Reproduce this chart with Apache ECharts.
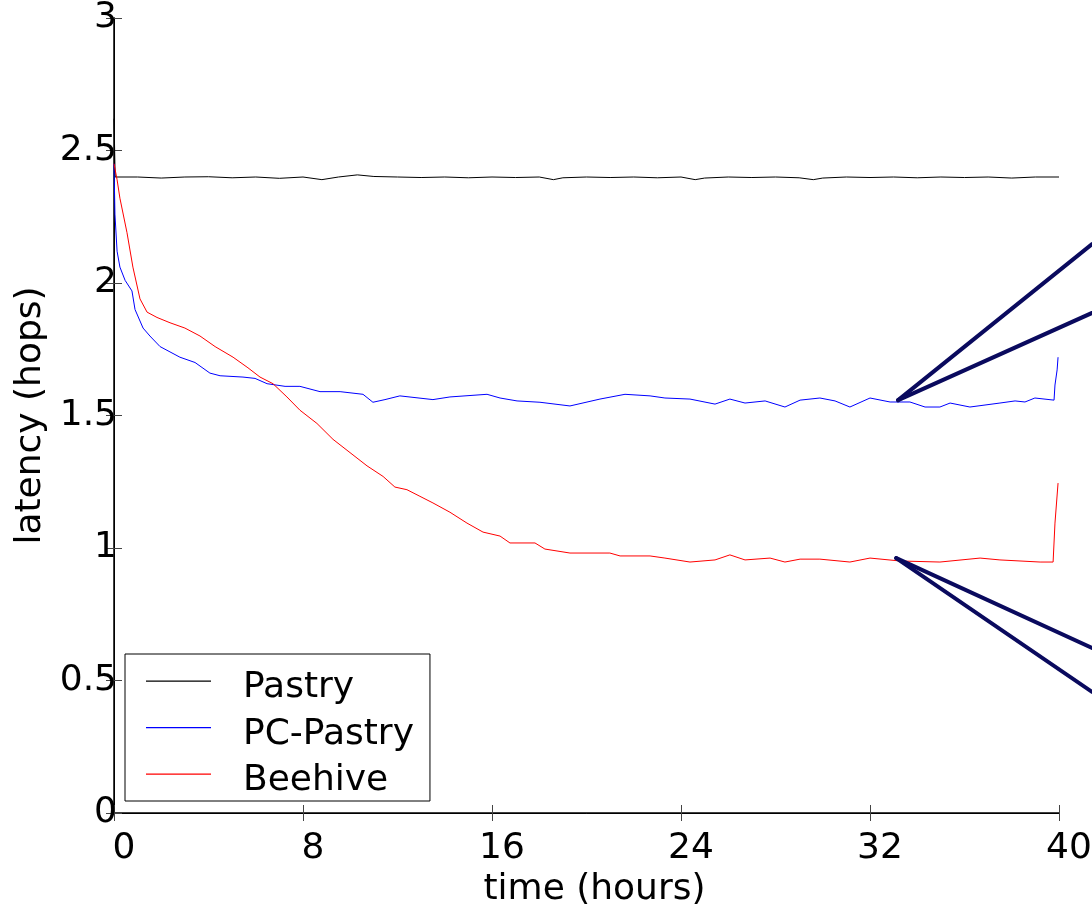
<!DOCTYPE html>
<html>
<head>
<meta charset="utf-8">
<script src="https://cdn.jsdelivr.net/npm/echarts@6/dist/echarts.min.js"></script>
<style>
html,body{margin:0;padding:0;background:#fff;}
#chart{width:1092px;height:907px;}
</style>
</head>
<body>
<div id="chart"></div>
<script>
// ---- data (hours, latency in hops) ----
const seriesNames = ['Pastry', 'PC-Pastry', 'Beehive'];
const xTicks = [0, 8, 16, 24, 32, 40];
const yTicks = [0, 0.5, 1, 1.5, 2, 2.5, 3];

const pastryTime = [0, 0.05, 1, 2, 3, 4, 5, 6, 7, 8, 8.8, 9.5, 10.3, 11, 12, 13, 14, 15, 16, 17, 18, 18.6, 19, 20, 21, 22, 23, 24, 24.6, 25, 26, 27, 28, 29, 29.6, 30, 31, 32, 33, 34, 35, 36, 37, 38, 39, 40];
const pastryVal  = [2.62, 2.40, 2.40, 2.396, 2.40, 2.401, 2.397, 2.40, 2.395, 2.40, 2.39, 2.40, 2.408, 2.402, 2.40, 2.398, 2.40, 2.397, 2.40, 2.398, 2.40, 2.39, 2.397, 2.40, 2.398, 2.40, 2.397, 2.40, 2.39, 2.396, 2.40, 2.398, 2.40, 2.397, 2.39, 2.396, 2.40, 2.398, 2.40, 2.397, 2.40, 2.398, 2.40, 2.396, 2.40, 2.40];

const pcTime = [0, 0.04, 0.13, 0.25, 0.47, 0.76, 0.89, 1.23, 1.52, 1.95, 2.37, 2.79, 3.43, 4.06, 4.49, 5.46, 5.97, 6.48, 7.24, 7.87, 8.72, 9.57, 10.54, 10.96, 11.47, 12.1, 13.5, 14.22, 15.79, 16.34, 17.06, 18.03, 19.3, 20.57, 21.63, 22.69, 23.32, 24.38, 25.44, 26.07, 26.71, 27.56, 28.4, 29.04, 29.88, 30.52, 31.15, 32.0, 32.85, 33.69, 34.33, 34.96, 35.39, 36.23, 37.5, 38.14, 38.56, 38.98, 39.79, 39.83, 39.92, 39.96];
const pcVal  = [2.45, 2.26, 2.12, 2.06, 2.01, 1.97, 1.90, 1.83, 1.80, 1.76, 1.74, 1.72, 1.70, 1.66, 1.65, 1.645, 1.64, 1.62, 1.61, 1.61, 1.59, 1.59, 1.58, 1.55, 1.56, 1.574, 1.56, 1.57, 1.58, 1.566, 1.555, 1.55, 1.536, 1.562, 1.58, 1.574, 1.566, 1.562, 1.543, 1.562, 1.547, 1.555, 1.532, 1.558, 1.566, 1.555, 1.532, 1.566, 1.551, 1.551, 1.532, 1.532, 1.547, 1.532, 1.547, 1.555, 1.551, 1.566, 1.558, 1.615, 1.672, 1.72];

const beeTime = [0, 0.13, 0.25, 0.55, 0.8, 1.1, 1.4, 1.82, 2.37, 3.0, 3.64, 4.28, 5.04, 5.67, 6.18, 6.73, 7.32, 7.87, 8.59, 9.27, 9.99, 10.71, 11.39, 11.89, 12.4, 12.95, 13.5, 14.22, 14.94, 15.62, 16.34, 16.76, 17.82, 18.24, 19.3, 20.99, 21.42, 22.69, 23.32, 24.38, 25.44, 26.07, 26.71, 27.77, 28.4, 29.04, 29.88, 31.15, 32.0, 33.27, 34.96, 36.66, 37.5, 39.2, 39.75, 39.83, 39.96];
const beeVal  = [2.45, 2.39, 2.32, 2.19, 2.06, 1.94, 1.89, 1.87, 1.85, 1.83, 1.80, 1.76, 1.72, 1.68, 1.645, 1.62, 1.57, 1.52, 1.47, 1.41, 1.36, 1.31, 1.27, 1.23, 1.22, 1.195, 1.17, 1.135, 1.094, 1.06, 1.045, 1.019, 1.019, 0.996, 0.981, 0.981, 0.97, 0.97, 0.962, 0.947, 0.955, 0.974, 0.955, 0.962, 0.947, 0.958, 0.958, 0.947, 0.962, 0.951, 0.947, 0.962, 0.955, 0.947, 0.947, 1.094, 1.245];

// zoom-callout guide segments [x1, y1, x2, y2] in data coords (extend past the plot)
const calloutSegments = [
  [33.19, 1.558, 41.4, 2.147],
  [33.19, 1.558, 41.4, 1.887],
  [33.11, 0.962, 41.4, 0.623],
  [33.11, 0.962, 41.4, 0.457]
];

const zip = (t, v) => t.map((x, i) => [x, v[i]]);

const FONT = 'DejaVu Sans';
const chart = echarts.init(document.getElementById('chart'), null, {renderer: 'canvas'});

const tickStyle = {inside: true, length: 8, lineStyle: {color: '#444', width: 1}};
const lineAxis = {show: true, onZero: false, lineStyle: {color: '#000', width: 1.5}};
// legend sample: thin line at the top of a 15px-high icon box, so the label sits a bit lower
const legendIcon = 'path://M0,0L65,0L65,1.3L0,1.3Z M0,14.9L0.1,14.9L0.1,15L0,15Z';

chart.setOption({
  animation: false,
  backgroundColor: '#fff',
  grid: {left: 114, right: 33, top: 18, bottom: 94, containLabel: false, outerBoundsMode: 'none'},
  legend: {
    data: seriesNames.map(n => ({name: n, icon: legendIcon})),
    orient: 'vertical',
    left: 125, top: 654,
    backgroundColor: '#fff',
    borderColor: '#000', borderWidth: 1,
    padding: [16, 16, 2, 21],
    itemWidth: 65, itemHeight: 15, itemGap: 10.5,
    textStyle: {fontFamily: FONT, fontSize: 36, color: '#000', padding: [0, 0, 0, 27], lineHeight: 36}
  },
  xAxis: [{
    type: 'value', min: 0, max: 40, interval: 8, position: 'bottom',
    name: 'time (hours)', nameLocation: 'middle', nameGap: 56,
    nameTextStyle: {fontFamily: FONT, fontSize: 36, color: '#000', padding: [0, 0, 0, 16]},
    axisLine: lineAxis, axisTick: tickStyle, splitLine: {show: false},
    axisLabel: {fontFamily: FONT, fontSize: 36, color: '#000', margin: 18, padding: [0, 0, 0, 20],
      formatter: v => xTicks.includes(v) ? String(v) : ''}
  }, {
    type: 'value', min: 0, max: 40, interval: 8, position: 'top',
    axisLine: {show: true, lineStyle: {color: '#000', width: 1}}, axisTick: tickStyle,
    axisLabel: {show: false}, splitLine: {show: false}
  }],
  yAxis: [{
    type: 'value', min: 0, max: 3, interval: 0.5, position: 'left',
    name: 'latency (hops)', nameLocation: 'middle', nameGap: 62,
    nameTextStyle: {fontFamily: FONT, fontSize: 36, color: '#000'},
    axisLine: lineAxis, axisTick: tickStyle, splitLine: {show: false},
    axisLabel: {fontFamily: FONT, fontSize: 36, color: '#000', margin: -3, padding: [10, 0, 0, 0],
      formatter: v => yTicks.includes(v) ? String(v) : ''}
  }, {
    type: 'value', min: 0, max: 3, interval: 0.5, position: 'right',
    axisLine: {show: true, lineStyle: {color: '#000', width: 1}}, axisTick: tickStyle,
    axisLabel: {show: false}, splitLine: {show: false}
  }],
  series: [
    {name: 'Pastry', type: 'line', data: zip(pastryTime, pastryVal), showSymbol: false, symbol: 'none',
     lineStyle: {color: '#000', width: 1}, itemStyle: {color: '#000'}},
    {name: 'PC-Pastry', type: 'line', data: zip(pcTime, pcVal), showSymbol: false, symbol: 'none',
     lineStyle: {color: '#0000ff', width: 1}, itemStyle: {color: '#0000ff'}},
    {name: 'Beehive', type: 'line', data: zip(beeTime, beeVal), showSymbol: false, symbol: 'none',
     lineStyle: {color: '#ff0000', width: 1}, itemStyle: {color: '#ff0000'}},
    {
      type: 'custom', clip: false, silent: true, z: 5,
      data: calloutSegments,
      encode: {x: [0, 2], y: [1, 3]},
      renderItem: (params, api) => {
        const p0 = api.coord([api.value(0), api.value(1)]);
        const p1 = api.coord([api.value(2), api.value(3)]);
        return {type: 'line', shape: {x1: p0[0], y1: p0[1], x2: p1[0], y2: p1[1]},
                style: {stroke: '#0a0a5e', lineWidth: 4, lineCap: 'round'}};
      }
    }
  ]
});
</script>
</body>
</html>
